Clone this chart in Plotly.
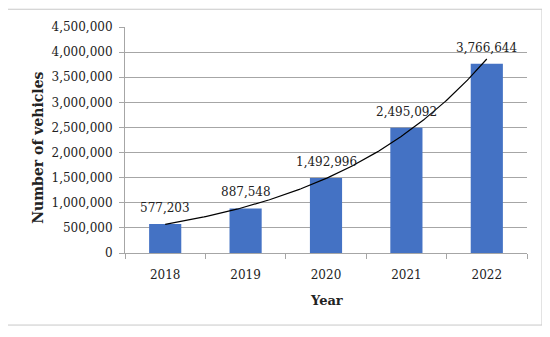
import numpy as np
import plotly.graph_objects as go

years = ["2018", "2019", "2020", "2021", "2022"]
vehicles = [577203, 887548, 1492996, 2495092, 3766644]
y_ticks = [0, 500000, 1000000, 1500000, 2000000, 2500000, 3000000, 3500000, 4000000, 4500000]

FONT = "DejaVu Serif"
FS = 12
pos = list(range(len(years)))

# Exponential trendline fitted to the data (as in the original chart)
b, ln_a = np.polyfit(np.array(pos) + 1, np.log(vehicles), 1)
xt = np.linspace(0, len(years) - 1, 200)
yt = np.exp(ln_a + b * (xt + 1))

fig = go.Figure()
fig.add_trace(go.Bar(x=pos, y=vehicles, width=0.4, marker=dict(color="#4472C4", line=dict(width=0)),
                     hoverinfo="x+y"))
fig.add_trace(go.Scatter(x=xt, y=yt, mode="lines", line=dict(color="black", width=1.2), hoverinfo="skip"))

for p, v in zip(pos, vehicles):
    fig.add_annotation(x=p, y=v, text=f"{v:,}", showarrow=False, yanchor="bottom", yshift=7,
                       font=dict(family=FONT, size=FS, color="#222"))

fig.add_annotation(xref="paper", yref="paper", x=-0.217, y=0.465, xanchor="center", yanchor="middle",
                   text="<b>Number of vehicles</b>", textangle=-90, showarrow=False,
                   font=dict(family=FONT, size=14, color="#222"))
fig.add_annotation(xref="paper", yref="paper", x=0.5, y=-0.21, text="<b>Year</b>", xanchor="center",
                   yanchor="middle", showarrow=False, font=dict(family=FONT, size=13, color="#222"))

fig.add_shape(type="rect", xref="paper", yref="paper", x0=-0.2935, x1=1.0373, y0=-0.3188, y1=1.0786,
              line=dict(color="#c8c8c8", width=1))

fig.update_layout(
    width=542, height=329,
    margin=dict(l=117, r=23, t=16, b=84),
    paper_bgcolor="white", plot_bgcolor="white",
    showlegend=False,
    font=dict(family=FONT, size=FS, color="#222"),
    xaxis=dict(range=[-0.5, 4.5], tickvals=pos, ticktext=years, ticks="", showgrid=False,
               showline=True, linecolor="#a6a6a6", linewidth=1, zeroline=False, ticklabelstandoff=11,
               tickfont=dict(family=FONT, size=FS, color="#222"),
               minor=dict(tick0=-0.5, dtick=1, ticks="outside", ticklen=5, tickcolor="#a6a6a6", showgrid=False)),
    yaxis=dict(range=[0, 4500000], tickvals=y_ticks, ticktext=[f"{t:,}" for t in y_ticks],
               ticks="outside", ticklen=5, tickcolor="#a6a6a6", showgrid=True, gridcolor="#a6a6a6",
               gridwidth=1, showline=True, linecolor="#a6a6a6", zeroline=False, ticklabelstandoff=4,
               tickfont=dict(family=FONT, size=FS, color="#222")),
)

fig.write_html("out.html")
